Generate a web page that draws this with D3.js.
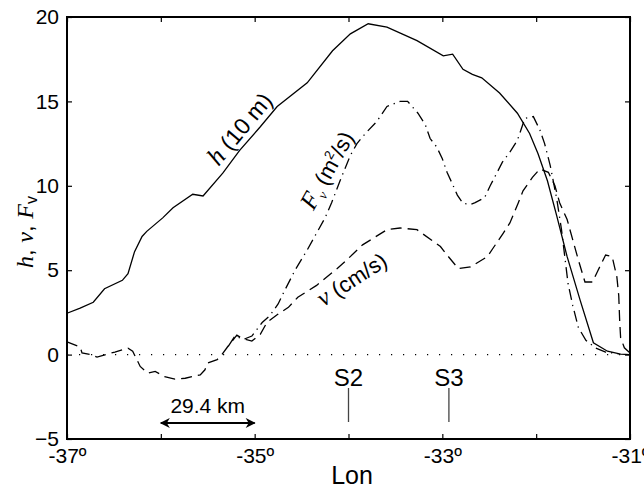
<!DOCTYPE html>
<html>
<head>
<meta charset="utf-8">
<script src="https://cdn.jsdelivr.net/npm/d3@7"></script>
<style>
  body { margin: 0; background: #fff; }
  text { font-family: "Liberation Sans", Arial, sans-serif; fill: #000; }
  .it { font-family: "Liberation Serif", "Times New Roman", serif; font-style: italic; }
</style>
</head>
<body>
<div id="chart"></div>
<script>
// ---- data ----
var xTicks = [-37, -36, -35, -34, -33, -32, -31];
var xLabels = { "-37": "-37º", "-35": "-35º", "-33": "-33º", "-31": "-31º" };
var yTicks = [-5, 0, 5, 10, 15, 20];

// h (10 m), solid
var hLon = [-37.00, -36.86, -36.72, -36.60, -36.41, -36.35, -36.28, -36.20, -36.15, -35.98, -35.87, -35.66, -35.55,
  -35.34, -35.16, -34.94, -34.76, -34.44, -34.17, -33.98, -33.79, -33.59, -33.27, -32.99, -32.89, -32.78, -32.68,
  -32.58, -32.39, -32.20, -32.07, -31.98, -31.88, -31.78, -31.67, -31.53, -31.39, -31.24, -31.10, -31.00];
var hVal = [2.45, 2.75, 3.1, 3.9, 4.4, 4.8, 6.1, 7.0, 7.3, 8.1, 8.7, 9.5, 9.4,
  10.75, 12.1, 13.5, 14.7, 16.1, 18.0, 19.0, 19.6, 19.4, 18.6, 17.7, 17.8, 16.9, 16.6,
  16.4, 15.5, 14.3, 13.1, 11.9, 10.3, 8.2, 5.8, 3.2, 0.7, 0.2, 0.03, 0.0];

// F_v (m2/s), dash-dot
var fLon = [-35.28, -35.21, -35.12, -35.03, -34.92, -34.84, -34.75, -34.68, -34.57, -34.44, -34.36, -34.25, -34.18,
  -34.09, -33.98, -33.91, -33.82, -33.70, -33.59, -33.45, -33.37, -33.26, -33.18, -33.13, -33.06, -33.00, -32.95,
  -32.90, -32.84, -32.78, -32.70, -32.65, -32.55, -32.49, -32.36, -32.28, -32.20, -32.12, -32.03, -31.96, -31.91,
  -31.85, -31.78, -31.73, -31.66, -31.61, -31.55, -31.47, -31.37, -31.26, -31.12];
var fVal = [0.5, 1.1, 0.9, 1.1, 1.9, 2.3, 3.0, 3.8, 5.0, 6.2, 7.0, 8.1, 9.0,
  10.3, 11.8, 12.5, 13.1, 13.8, 14.7, 15.0, 15.0, 14.3, 13.6, 12.8, 12.3, 11.6, 10.8,
  10.2, 9.45, 8.96, 8.9, 9.0, 9.3, 10.0, 11.4, 12.0, 12.7, 14.0, 14.1, 13.3, 12.5,
  11.2, 9.2, 7.4, 4.2, 2.9, 1.6, 0.85, 0.4, 0.15, 0.05];

// v (cm/s), dashed
var vLon = [-37.00, -36.86, -36.84, -36.75, -36.68, -36.57, -36.49, -36.35, -36.30, -36.22, -36.14, -36.06, -35.96,
  -35.85, -35.74, -35.58, -35.53, -35.50, -35.40, -35.35, -35.29, -35.19, -35.13, -35.03, -34.94, -34.87, -34.75,
  -34.64, -34.54, -34.34, -34.12, -34.02, -33.85, -33.59, -33.45, -33.27, -33.02, -32.95, -32.83, -32.70, -32.52,
  -32.46, -32.35, -32.28, -32.19, -32.14, -32.04, -31.96, -31.87, -31.80, -31.75, -31.67, -31.61, -31.55, -31.48,
  -31.40, -31.34, -31.26, -31.19, -31.14, -31.12, -31.11, -31.10, -31.06, -31.00];
var vVal = [0.75, 0.45, 0.1, 0.0, -0.15, 0.03, 0.15, 0.38, 0.2, -0.7, -1.1, -1.0, -1.3,
  -1.45, -1.4, -1.2, -0.9, -0.5, -0.3, 0.0, 0.45, 1.15, 0.95, 0.8, 1.2, 1.9, 2.4,
  2.8, 3.4, 4.1, 5.1, 5.6, 6.5, 7.4, 7.5, 7.4, 6.4, 5.9, 5.1, 5.2, 5.8,
  6.3, 7.2, 7.8, 9.0, 9.7, 10.5, 11.0, 10.8, 10.0, 9.0, 8.0, 6.8, 5.6, 4.3,
  4.3, 5.0, 5.9, 5.8, 4.6, 3.5, 2.0, 1.0, 0.4, 0.1];

// stations and scale bar
var stations = [{ name: "S2", lon: -34.0 }, { name: "S3", lon: -32.93 }];
var scaleBar = { from: -36.0, to: -35.0, y: -4.05, label: "29.4 km" };

// ---- chart ----
var width = 644, height = 491;
var x = d3.scaleLinear().domain([-37, -31]).range([67, 630]);
var y = d3.scaleLinear().domain([-5, 20]).range([439, 17]);

var svg = d3.select('#chart').append('svg')
  .attr('width', width).attr('height', height);

function toPts(lons, vals) {
  return lons.map(function (d, i) { return [d, vals[i]]; });
}
var line = d3.line().x(function (d) { return x(d[0]); }).y(function (d) { return y(d[1]); });

// zero line, dotted
svg.append('line')
  .attr('x1', x(-37)).attr('x2', x(-31))
  .attr('y1', y(0)).attr('y2', y(0))
  .attr('stroke', '#000').attr('stroke-width', 1.2)
  .attr('stroke-dasharray', '1.2,10.8');

svg.append('path').attr('d', line(toPts(hLon, hVal)))
  .attr('fill', 'none').attr('stroke', '#000').attr('stroke-width', 1.3);
svg.append('path').attr('d', line(toPts(fLon, fVal)))
  .attr('fill', 'none').attr('stroke', '#000').attr('stroke-width', 1.3)
  .attr('stroke-dasharray', '11,5,1.3,5');
svg.append('path').attr('d', line(toPts(vLon, vVal)))
  .attr('fill', 'none').attr('stroke', '#000').attr('stroke-width', 1.3)
  .attr('stroke-dasharray', '11,6');

// axes, ticks pointing inward
var fmtX = function (d) { return xLabels[d] || ""; };
svg.append('g').attr('transform', 'translate(0,' + y(-5) + ')')
  .call(d3.axisBottom(x).tickValues(xTicks).tickSize(-5).tickSizeOuter(0).tickPadding(9).tickFormat(fmtX));
svg.append('g').attr('transform', 'translate(0,' + y(20) + ')')
  .call(d3.axisTop(x).tickValues(xTicks).tickSize(-5).tickSizeOuter(0).tickFormat(""));
svg.append('g').attr('transform', 'translate(' + x(-37) + ',0)')
  .call(d3.axisLeft(y).tickValues(yTicks).tickSize(-5).tickSizeOuter(0).tickPadding(8));
svg.append('g').attr('transform', 'translate(' + x(-31) + ',0)')
  .call(d3.axisRight(y).tickValues(yTicks).tickSize(-5).tickSizeOuter(0).tickFormat(""));

svg.selectAll('.domain').remove();
svg.selectAll('.tick line').attr('stroke', '#000').attr('stroke-width', 1.2);
svg.selectAll('.tick text').style('font-size', '21px').style('font-family', '"Liberation Sans", Arial, sans-serif');

svg.append('rect')
  .attr('x', x(-37)).attr('y', y(20))
  .attr('width', x(-31) - x(-37)).attr('height', y(-5) - y(20))
  .attr('fill', 'none').attr('stroke', '#000').attr('stroke-width', 2);

// station markers
var st = svg.selectAll('.station').data(stations).enter().append('g').attr('class', 'station');
st.append('line')
  .attr('x1', function (d) { return x(d.lon); }).attr('x2', function (d) { return x(d.lon); })
  .attr('y1', 388).attr('y2', 422)
  .attr('stroke', '#444').attr('stroke-width', 1.3);
st.append('text')
  .attr('x', function (d) { return x(d.lon); }).attr('y', 386)
  .attr('text-anchor', 'middle').style('font-size', '24px')
  .text(function (d) { return d.name; });

// scale bar with arrows
var defs = svg.append('defs');
defs.append('marker').attr('id', 'ah').attr('viewBox', '0 0 10 10')
  .attr('refX', 9).attr('refY', 5).attr('markerWidth', 11).attr('markerHeight', 10)
  .attr('markerUnits', 'userSpaceOnUse').attr('orient', 'auto-start-reverse')
  .append('path').attr('d', 'M0,0 L10,5 L0,10 L3,5 Z').attr('fill', '#000');
svg.append('line')
  .attr('x1', x(scaleBar.from)).attr('x2', x(scaleBar.to))
  .attr('y1', y(scaleBar.y)).attr('y2', y(scaleBar.y))
  .attr('stroke', '#000').attr('stroke-width', 2)
  .attr('marker-start', 'url(#ah)').attr('marker-end', 'url(#ah)');
svg.append('text')
  .attr('x', (x(scaleBar.from) + x(scaleBar.to)) / 2).attr('y', y(scaleBar.y) - 10)
  .attr('text-anchor', 'middle').style('font-size', '21px')
  .text(scaleBar.label);

// axis titles
svg.append('text').attr('x', 352).attr('y', 484).attr('text-anchor', 'middle')
  .style('font-size', '25px').text('Lon');

var yl = svg.append('text').attr('transform', 'translate(33,232) rotate(-90)')
  .attr('text-anchor', 'middle').style('font-size', '24px');
yl.append('tspan').attr('class', 'it').text('h');
yl.append('tspan').text(', ');
yl.append('tspan').attr('class', 'it').text('v');
yl.append('tspan').text(', ');
yl.append('tspan').attr('class', 'it').text('F');
yl.append('tspan').attr('dy', 4).style('font-size', '16px').text('v');

// curve labels
var hl = svg.append('text').attr('transform', 'translate(246,134) rotate(-50)')
  .attr('text-anchor', 'middle').style('font-size', '23px');
hl.append('tspan').attr('class', 'it').style('font-size', '26px').text('h');
hl.append('tspan').text(' (10 m)');

var fl = svg.append('text').attr('transform', 'translate(334,174) rotate(-61)')
  .attr('text-anchor', 'middle').style('font-size', '22px');
fl.append('tspan').attr('class', 'it').style('font-size', '25px').text('F');
fl.append('tspan').attr('class', 'it').attr('dy', 5).style('font-size', '14px').text('v');
fl.append('tspan').attr('dy', -5).text(' (m');
fl.append('tspan').attr('dy', -9).style('font-size', '13px').text('2');
fl.append('tspan').attr('dy', 9).text('/s)');

var vl = svg.append('text').attr('transform', 'translate(356,286) rotate(-33)')
  .attr('text-anchor', 'middle').style('font-size', '22px');
vl.append('tspan').attr('class', 'it').style('font-size', '25px').text('v');
vl.append('tspan').text(' (cm/s)');
</script>
</body>
</html>
